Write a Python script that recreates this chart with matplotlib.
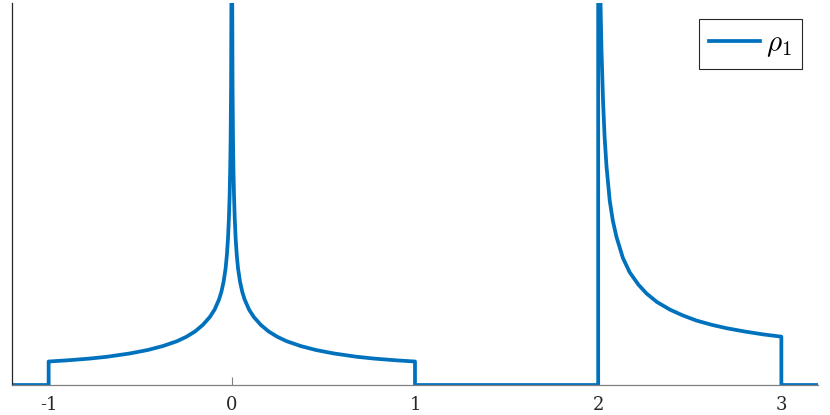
import matplotlib
matplotlib.use("Agg")
import matplotlib.pyplot as plt

plt.rcParams["mathtext.fontset"] = "cm"

# distance from x = 0 and the density there (both sides look the same)
dx_mid = [1.0, 0.9, 0.78, 0.68, 0.558, 0.46, 0.376, 0.3, 0.248, 0.2, 0.158,
          0.12, 0.094, 0.07, 0.057, 0.045, 0.034, 0.027, 0.021, 0.016,
          0.012, 0.009, 0.0065, 0.004, 0.002]
rho_mid = [0.246, 0.258, 0.276, 0.296, 0.330, 0.366, 0.408, 0.458, 0.505,
           0.562, 0.630, 0.712, 0.790, 0.895, 0.975, 1.08, 1.22, 1.36,
           1.53, 1.74, 1.98, 2.25, 2.58, 3.15, 4.2]
peak_mid = 6.0

# distance from x = 2 and the density there
dx_right = [0.002, 0.006, 0.013, 0.018, 0.027, 0.035, 0.045, 0.063, 0.08,
            0.1, 0.135, 0.172, 0.22, 0.263, 0.32, 0.391, 0.46, 0.536, 0.62,
            0.7, 0.8, 0.9, 1.0]
rho_right = [5.86, 5.03, 3.98, 3.51, 2.95, 2.60, 2.30, 1.93, 1.72, 1.55,
             1.33, 1.18, 1.05, 0.96, 0.87, 0.79, 0.73, 0.675, 0.63,
             0.595, 0.56, 0.53, 0.506]
peak_right = 7.0

x_min, x_max = -1.2, 3.2
xticks = [-1, 0, 1, 2, 3]
xtick_labels = ["-1", "0", "1", "2", "3"]

# assemble the piecewise curve
xs = [x_min, -1.0]
ys = [0.0, 0.0]
for d, r in zip(dx_mid, rho_mid):
    xs.append(-d)
    ys.append(r)
xs.append(0.0)
ys.append(peak_mid)
for d, r in reversed(list(zip(dx_mid, rho_mid))):
    xs.append(d)
    ys.append(r)
xs += [1.0, 2.0, 2.0]
ys += [0.0, 0.0, peak_right]
for d, r in zip(dx_right, rho_right):
    xs.append(2.0 + d)
    ys.append(r)
xs += [3.0, x_max]
ys += [0.0, 0.0]

fig = plt.figure(figsize=(8.3, 4.15), dpi=100)
ax = fig.add_axes([12 / 830, 1 - 385 / 415, 806 / 830, 382 / 415])

ax.plot(xs, ys, color="#0072BD", linewidth=2.7, label=r"$\rho_1$",
        solid_joinstyle="round")

ax.set_xlim(x_min, x_max)
ax.set_ylim(0, 4)
ax.set_xticks(xticks)
ax.set_xticklabels(xtick_labels, family="DejaVu Serif", fontsize=13)
ax.set_yticks([])
ax.tick_params(axis="x", direction="in", length=5.5, width=0.8,
               color="#808080", pad=8, labelcolor="#262626")

for side in ["top", "right"]:
    ax.spines[side].set_visible(False)
ax.spines["bottom"].set_color("#808080")
ax.spines["left"].set_color("#262626")
ax.spines["bottom"].set_linewidth(0.9)
ax.spines["left"].set_linewidth(0.9)

leg = ax.legend(loc="upper right", bbox_to_anchor=(802 / 830, 1 - 19 / 415),
                bbox_transform=fig.transFigure, borderaxespad=0,
                fontsize=21, fancybox=False, framealpha=1,
                handlelength=1.75, handletextpad=0.2, borderpad=0.35)
leg.get_frame().set_edgecolor("#262626")
leg.get_frame().set_linewidth(0.8)

fig.savefig("out.png", dpi=100)
